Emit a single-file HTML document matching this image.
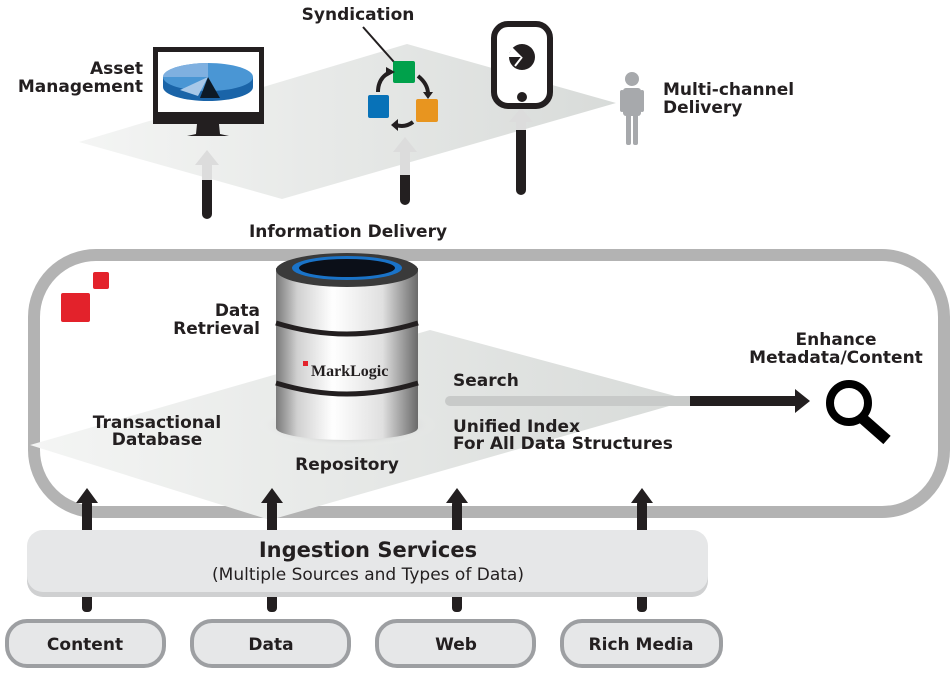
<!DOCTYPE html>
<html><head><meta charset="utf-8"><style>
html,body{margin:0;padding:0;background:#fff;}
svg{display:block;}
text{font-family:"DejaVu Sans","Liberation Sans",sans-serif;font-weight:bold;fill:#231f20;}
</style></head><body>
<svg width="952" height="677" viewBox="0 0 952 677" xmlns="http://www.w3.org/2000/svg">
<defs>
<linearGradient id="pl" x1="0" y1="0" x2="1" y2="0">
<stop offset="0" stop-color="#f4f5f4"/><stop offset="1" stop-color="#d8dbd9"/></linearGradient>
<linearGradient id="cyl" x1="0" y1="0" x2="1" y2="0">
<stop offset="0" stop-color="#7a7a7a"/><stop offset="0.15" stop-color="#d0d0d0"/><stop offset="0.4" stop-color="#ffffff"/><stop offset="0.75" stop-color="#e0e0e0"/><stop offset="1" stop-color="#6a6a6a"/></linearGradient>
<radialGradient id="sh" cx="0.5" cy="0.5" r="0.5"><stop offset="0" stop-color="#333"/><stop offset="1" stop-color="#fff" stop-opacity="0"/></radialGradient>
</defs>

<polygon points="79,142 407,44 616,103 282,199" fill="url(#pl)"/>
<rect x="202" y="165" width="10" height="54" rx="5" fill="#231f20"/>
<rect x="202" y="160" width="10" height="20" fill="#dcdcdc"/>
<polygon points="195,165 207,150 219,165" fill="#dcdcdc"/>
<rect x="400" y="150" width="10" height="55" rx="5" fill="#231f20"/>
<rect x="400" y="150" width="10" height="25" fill="#dcdcdc"/>
<polygon points="393,152 405,137 417,152" fill="#dcdcdc"/>
<rect x="516" y="120" width="10" height="75" rx="5" fill="#231f20"/>
<rect x="516" y="118" width="10" height="12" fill="#dcdcdc"/>
<polygon points="509,122 521,108 533,122" fill="#dcdcdc"/>

<rect x="153" y="47" width="111" height="77" fill="#231f20"/>
<rect x="158" y="52" width="101" height="60" fill="#fff"/>
<polygon points="197,124 219,124 220,134 229,136 187,136 196,134" fill="#231f20"/>
<ellipse cx="208" cy="87" rx="45" ry="14" fill="#1a64a8"/>
<rect x="163" y="77" width="90" height="10" fill="#1a64a8"/>
<ellipse cx="208" cy="77" rx="45" ry="14" fill="#4a96d4"/>
<path d="M208,77 L163,77 A45,14 0 0 1 208,63 Z" fill="#7fb0e0"/>
<polygon points="208,77 200,98 220,98" fill="#0d1a26"/>
<polygon points="208,77 180,90 198,96" fill="#a8c8e8"/>
<text x="143" y="74" font-size="17" text-anchor="end">Asset</text>
<text x="143" y="92" font-size="17" text-anchor="end">Management</text>

<text x="358" y="20" font-size="17" text-anchor="middle">Syndication</text>
<line x1="363" y1="27" x2="394" y2="62" stroke="#231f20" stroke-width="2"/>
<rect x="393" y="61" width="22" height="22" rx="2" fill="#00a14b"/>
<rect x="368" y="95" width="21" height="23" rx="2" fill="#0872b8"/>
<rect x="416" y="99" width="22" height="23" rx="2" fill="#e8951f"/>
<path d="M378,92 Q378,78 390,72" stroke="#231f20" stroke-width="4" fill="none"/>
<polygon points="386,67 395,72 386,77" fill="#231f20"/>
<path d="M418,76 Q428,84 428,94" stroke="#231f20" stroke-width="4" fill="none"/>
<polygon points="423,92 433,92 428,99" fill="#231f20"/>
<path d="M413,122 Q405,128 396,125" stroke="#231f20" stroke-width="4" fill="none"/>
<polygon points="398,119 398,131 391,125" fill="#231f20"/>

<rect x="494" y="24" width="56" height="82" rx="14" fill="#fff" stroke="#231f20" stroke-width="6"/>
<circle cx="522" cy="97" r="5" fill="#231f20"/>
<circle cx="522" cy="57" r="13" fill="#231f20"/>
<path d="M522,57 L512,47 L508,57 Z" fill="#fff"/>
<line x1="522" y1="57" x2="515" y2="66" stroke="#fff" stroke-width="2"/>

<circle cx="632" cy="79" r="7" fill="#a7a9ac"/>
<rect x="623" y="88" width="18" height="28" rx="3" fill="#a7a9ac"/>
<rect x="620" y="90" width="4" height="22" rx="2" fill="#a7a9ac"/>
<rect x="640" y="90" width="4" height="22" rx="2" fill="#a7a9ac"/>
<rect x="626" y="112" width="5" height="33" rx="2" fill="#a7a9ac"/>
<rect x="633" y="112" width="5" height="33" rx="2" fill="#a7a9ac"/>
<text x="663" y="95" font-size="17">Multi-channel</text>
<text x="663" y="113" font-size="17">Delivery</text>

<text x="348" y="237" font-size="17" text-anchor="middle">Information Delivery</text>

<rect x="34" y="255" width="910" height="257" rx="62" fill="#fff" stroke="#b3b3b3" stroke-width="12"/>
<polygon points="30,445 430,330 690,400 270,520" fill="url(#pl)"/>
<rect x="61" y="293" width="29" height="29" rx="2" fill="#e3222b"/>
<rect x="93" y="272" width="16" height="17" rx="2" fill="#e3222b"/>

<text x="260" y="316" font-size="17" text-anchor="end">Data</text>
<text x="260" y="334" font-size="17" text-anchor="end">Retrieval</text>
<text x="157" y="428" font-size="17" text-anchor="middle">Transactional</text>
<text x="157" y="445" font-size="17" text-anchor="middle">Database</text>

<ellipse cx="347" cy="425" rx="90" ry="22" fill="url(#sh)"/>
<rect x="276" y="268" width="142" height="160" fill="url(#cyl)"/>
<ellipse cx="347" cy="428" rx="71" ry="12" fill="url(#cyl)"/>
<path d="M276,323 Q347,345 418,323" stroke="#231f20" stroke-width="5" fill="none"/>
<path d="M276,383 Q347,405 418,383" stroke="#231f20" stroke-width="5" fill="none"/>
<ellipse cx="347" cy="270" rx="71" ry="17" fill="#3a3a3a"/>
<ellipse cx="347" cy="268" rx="55" ry="12" fill="#1a73c8"/>
<ellipse cx="347" cy="268" rx="48" ry="9" fill="#0b0f18"/>
<rect x="303" y="361" width="5" height="5" fill="#e3222b"/>
<text x="311" y="376" font-size="16" style="font-family:'Liberation Serif',serif" fill="#231f20">MarkLogic</text>

<text x="347" y="470" font-size="17" text-anchor="middle">Repository</text>
<text x="453" y="386" font-size="17">Search</text>
<text x="453" y="432" font-size="17">Unified Index</text>
<text x="453" y="449" font-size="17">For All Data Structures</text>

<rect x="445" y="396" width="250" height="10" rx="5" fill="#c8cac9"/>
<rect x="690" y="396" width="108" height="10" fill="#231f20"/>
<polygon points="795,389 810,401 795,413" fill="#231f20"/>
<text x="836" y="345" font-size="17" text-anchor="middle">Enhance</text>
<text x="836" y="363" font-size="17" text-anchor="middle">Metadata/Content</text>
<circle cx="849" cy="403" r="19" fill="none" stroke="#000" stroke-width="8"/>
<line x1="862" y1="418" x2="887" y2="440" stroke="#000" stroke-width="11"/>

<g fill="#231f20">
<rect x="82" y="500" width="10" height="112" rx="4"/><polygon points="76,503 87,488 98,503"/>
<rect x="267" y="500" width="10" height="112" rx="4"/><polygon points="261,503 272,488 283,503"/>
<rect x="452" y="500" width="10" height="112" rx="4"/><polygon points="446,503 457,488 468,503"/>
<rect x="637" y="500" width="10" height="112" rx="4"/><polygon points="631,503 642,488 653,503"/>
</g>

<rect x="27" y="533" width="681" height="64" rx="16" fill="#cfd0d1"/>
<rect x="27" y="530" width="681" height="62" rx="16" fill="#e6e7e8"/>
<text x="368" y="557" font-size="21" text-anchor="middle">Ingestion Services</text>
<text x="368" y="580" font-size="17" text-anchor="middle" style="font-weight:normal">(Multiple Sources and Types of Data)</text>

<g fill="#e6e7e8" stroke="#9d9fa2" stroke-width="4">
<rect x="7" y="621" width="157" height="45" rx="20"/>
<rect x="192" y="621" width="157" height="45" rx="20"/>
<rect x="377" y="621" width="157" height="45" rx="20"/>
<rect x="562" y="621" width="159" height="45" rx="20"/>
</g>
<text x="85" y="650" font-size="17" text-anchor="middle">Content</text>
<text x="271" y="650" font-size="17" text-anchor="middle">Data</text>
<text x="456" y="650" font-size="17" text-anchor="middle">Web</text>
<text x="641" y="650" font-size="17" text-anchor="middle">Rich Media</text>
</svg>
</body></html>
